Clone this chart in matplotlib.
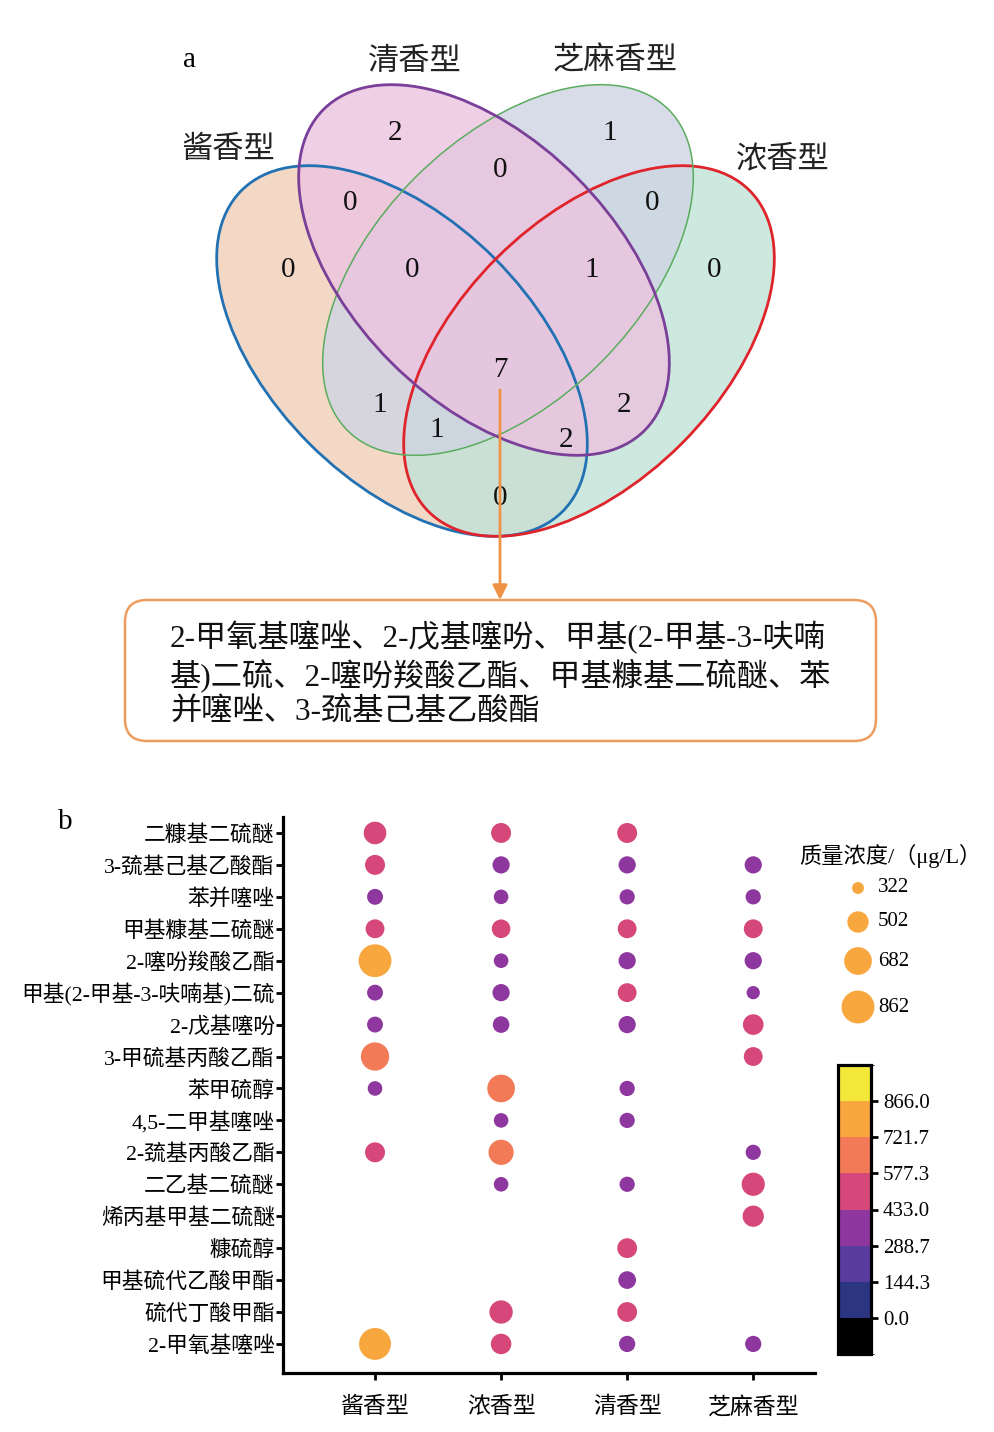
import numpy as np
import matplotlib
matplotlib.use("Agg")
import matplotlib.pyplot as plt
from matplotlib.patches import Ellipse, FancyBboxPatch
from matplotlib.colors import ListedColormap, BoundaryNorm
from matplotlib.cm import ScalarMappable

plt.rcParams['font.family'] = ['Liberation Serif', 'Noto Sans CJK SC', 'DejaVu Sans']

# ---------------- data ----------------
venn_sets = ['酱香型', '清香型', '芝麻香型', '浓香型']
venn_region_counts = {
    '清': 2, '芝': 1, '清芝': 0, '酱清': 0, '芝浓': 0, '酱': 0, '酱清芝': 0,
    '清芝浓': 1, '浓': 0, '酱清芝浓': 7, '酱芝': 1, '酱芝浓': 1, '清浓': 2,
    '酱清浓': 2, '酱浓': 0,
}
common_text = ['2-甲氧基噻唑、2-戊基噻吩、甲基(2-甲基-3-呋喃',
               '基)二硫、2-噻吩羧酸乙酯、甲基糠基二硫醚、苯',
               '并噻唑、3-巯基己基乙酸酯']

groups = ['酱香型', '浓香型', '清香型', '芝麻香型']
compounds = ['二糠基二硫醚', '3-巯基己基乙酸酯', '苯并噻唑', '甲基糠基二硫醚',
             '2-噻吩羧酸乙酯', '甲基(2-甲基-3-呋喃基)二硫', '2-戊基噻吩',
             '3-甲硫基丙酸乙酯', '苯甲硫醇', '4,5-二甲基噻唑', '2-巯基丙酸乙酯',
             '二乙基二硫醚', '烯丙基甲基二硫醚', '糠硫醇', '甲基硫代乙酸甲酯',
             '硫代丁酸甲酯', '2-甲氧基噻唑']
nan = np.nan
conc_jiang = [535, 469, 386, 445, 860, 386, 386, 700, 363, nan, 469, nan, nan, nan, nan, nan, 825]
conc_nong  = [469, 411, 363, 440, 363, 411, 399, nan, 680, 363, 606, 363, nan, nan, nan, 553, 482]
conc_qing  = [469, 411, 374, 445, 411, 445, 411, nan, 374, 374, nan, 374, nan, 466, 420, 466, 392]
conc_zhima = [nan, 411, 374, 445, 411, 341, 485, 445, nan, nan, 374, 550, 500, nan, nan, nan, 392]

cbar_bounds = [-144.3, 0.0, 144.3, 288.7, 433.0, 577.3, 721.7, 866.0, 1010.3]
cbar_ticks = [0.0, 144.3, 288.7, 433.0, 577.3, 721.7, 866.0]
cbar_colors = ['#000000', '#2b3580', '#5a3b9e', '#8e389f', '#d6477a',
               '#f27a57', '#f8a63e', '#f3e83a']
size_legend_vals = [322, 502, 682, 862]


def size_of(v):
    v = np.asarray(v, dtype=float)
    return 0.9 * np.clip(v - 240.0, 5, None)


W, H = 995, 1432
fig = plt.figure(figsize=(W / 100, H / 100), dpi=100)

# overlay axes in pixel coordinates
ov = fig.add_axes([0, 0, 1, 1])
ov.set_xlim(0, W)
ov.set_ylim(H, 0)
ov.axis('off')

# ---------------- panel a: Venn ----------------
ell_specs = [  # set, center, angle, fill, edge, lw
    ('酱香型', (402, 351), 45, '#f1cfb8', '#2271b3', 2.0),
    ('浓香型', (589, 351), -45, '#c0e3d8', '#e0242b', 2.0),
    ('芝麻香型', (508, 270), -45, '#cfd4e3', '#5bad5e', 1.1),
    ('清香型', (484, 270), 45, '#ecc3e0', '#7a3f98', 2.0),
]
A, B = 227, 131
for name, c, ang, fc, ec, lw in ell_specs:
    ov.add_patch(Ellipse(c, 2 * A, 2 * B, angle=ang, facecolor=fc, alpha=0.8,
                         edgecolor='none', zorder=1))
for name, c, ang, fc, ec, lw in ell_specs:
    ov.add_patch(Ellipse(c, 2 * A, 2 * B, angle=ang, facecolor='none',
                         edgecolor=ec, lw=lw, zorder=2))

label_pos = {'酱香型': (228, 150), '清香型': (415, 62), '芝麻香型': (615, 62), '浓香型': (783, 160)}
for s in venn_sets:
    ov.text(*label_pos[s], s, fontsize=22.5, ha='center', va='center', color='#222222')

region_pos = {
    '清': (395, 133), '芝': (610, 133), '清芝': (500, 170), '酱清': (350, 203),
    '芝浓': (652, 203), '酱': (288, 270), '酱清芝': (412, 270), '清芝浓': (592, 270),
    '浓': (714, 270), '酱清芝浓': (500, 370), '酱芝': (380, 405), '酱芝浓': (437, 430),
    '清浓': (624, 405), '酱清浓': (566, 440), '酱浓': (500, 498),
}
for k, v in venn_region_counts.items():
    ov.text(*region_pos[k], str(v), fontsize=21, ha='center', va='center',
            color='#111111', zorder=5)

ov.text(190, 60, 'a', fontsize=21, ha='center', va='center')

# arrow and box
ov.annotate('', xy=(500, 600), xytext=(500, 390),
            arrowprops=dict(arrowstyle='-|>', color='#ee9245', lw=2,
                            mutation_scale=22, shrinkA=0, shrinkB=0), zorder=6)
ov.add_patch(FancyBboxPatch((125, 600), 751, 141,
                            boxstyle='round,pad=0,rounding_size=22',
                            facecolor='white', edgecolor='#ee9d5e', lw=1.8, zorder=4))
for i, line in enumerate(common_text):
    ov.text(170, 637 + 38 * i, line, fontsize=22.5, ha='left', va='center',
            color='#111111', zorder=5)

ov.text(65, 822, 'b', fontsize=21, ha='center', va='center')

# ---------------- panel b: bubble plot ----------------
ax = fig.add_axes([283 / W, 1 - 1373 / H, (815 - 283) / W, (1373 - 817) / H])
cmap = ListedColormap(cbar_colors)
norm = BoundaryNorm(cbar_bounds, cmap.N)

all_conc = [conc_jiang, conc_nong, conc_qing, conc_zhima]
for gi, vals in enumerate(all_conc):
    vals = np.array(vals, dtype=float)
    m = ~np.isnan(vals)
    ys = np.arange(len(compounds))[m]
    ax.scatter(np.full(m.sum(), gi), ys, s=size_of(vals[m]), c=vals[m],
               cmap=cmap, norm=norm, edgecolors='none', zorder=3)

ax.set_xlim(-0.73, 3.49)
ax.set_ylim(len(compounds) - 1 + 0.91, -0.5)
ax.set_xticks(range(len(groups)))
ax.set_xticklabels(groups, fontsize=16.5)
ax.set_yticks(range(len(compounds)))
ax.set_yticklabels(compounds, fontsize=15.7)
for sp in ['top', 'right']:
    ax.spines[sp].set_visible(False)
for sp in ['left', 'bottom']:
    ax.spines[sp].set_linewidth(2.3)
ax.tick_params(axis='both', length=5, width=2.0, color='black')
ax.tick_params(axis='x', pad=12)
ax.tick_params(axis='y', pad=1)
ax.set_facecolor('none')

# colorbar
cax = fig.add_axes([838 / W, 1 - 1354 / H, (871 - 838) / W, (1354 - 1065) / H])
sm = ScalarMappable(norm=norm, cmap=cmap)
cb = fig.colorbar(sm, cax=cax, ticks=cbar_ticks, spacing='uniform')
cb.ax.set_yticklabels([f'{t:.1f}' for t in cbar_ticks], fontsize=15)
cb.outline.set_linewidth(2.3)
cb.ax.tick_params(length=5, width=2.0)

# size legend
ov.text(890, 856, '质量浓度/（μg/L）', fontsize=16, ha='center', va='center')
leg_y = [888, 922, 961, 1007]
ov.scatter([858] * 4, leg_y, s=size_of(size_legend_vals), color='#f8a63e',
           edgecolors='none', zorder=5)
for y, v in zip(leg_y, size_legend_vals):
    ov.text(878, y, str(v), fontsize=15, ha='left', va='center')

fig.savefig('out.png', dpi=100)
